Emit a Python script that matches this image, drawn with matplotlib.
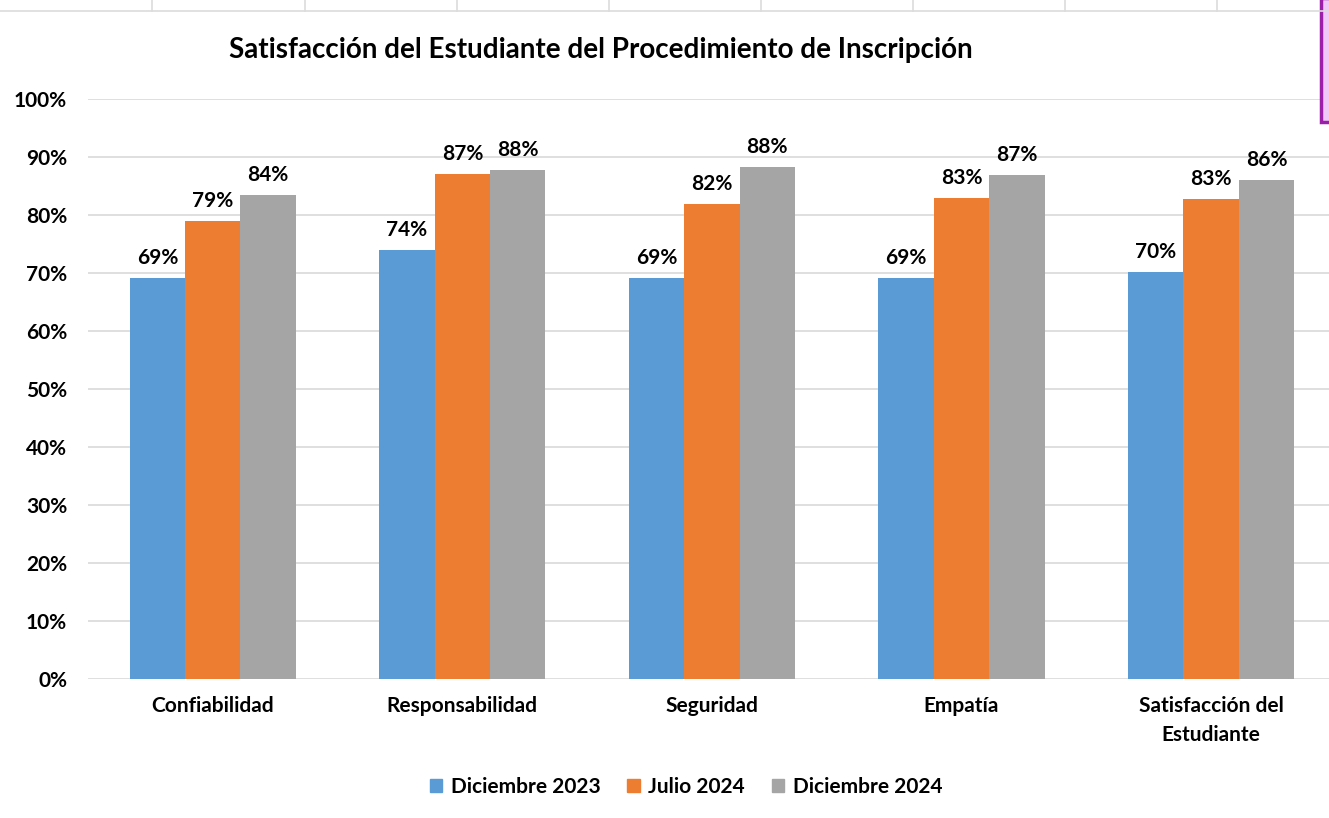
import matplotlib.pyplot as plt
import numpy as np
from matplotlib.patches import Rectangle
from matplotlib.lines import Line2D

categories = ["Confiabilidad", "Responsabilidad", "Seguridad", "Empatía",
              "Satisfacción del\nEstudiante"]
series_names = ["Diciembre 2023", "Julio 2024", "Diciembre 2024"]
dic_2023 = [0.691, 0.740, 0.691, 0.691, 0.702]
jul_2024 = [0.790, 0.871, 0.819, 0.829, 0.828]
dic_2024 = [0.835, 0.878, 0.883, 0.869, 0.860]
labels_2023 = ["69%", "74%", "69%", "69%", "70%"]
labels_jul = ["79%", "87%", "82%", "83%", "83%"]
labels_2024 = ["84%", "88%", "88%", "87%", "86%"]
yticks = [0, 0.1, 0.2, 0.3, 0.4, 0.5, 0.6, 0.7, 0.8, 0.9, 1.0]

colors = ["#5B9BD5", "#ED7D31", "#A5A5A5"]

plt.rcParams['font.family'] = ['Lato', 'DejaVu Sans']
plt.rcParams['font.weight'] = 'bold'

W, H = 1329, 818
fig = plt.figure(figsize=(W / 100, H / 100), dpi=100)
ax = fig.add_axes([88 / W, 1 - 679 / H, (W - 88) / W, (679 - 99) / H])

ind = np.arange(len(categories))
width = 0.222
all_vals = [dic_2023, jul_2024, dic_2024]
all_labels = [labels_2023, labels_jul, labels_2024]
for k in range(3):
    xs = ind + (k - 1) * width
    ax.bar(xs, all_vals[k], width, color=colors[k], label=series_names[k], zorder=2)
    for x, v, lab in zip(xs, all_vals[k], all_labels[k]):
        ax.annotate(lab, (x, v), xytext=(0, 7), textcoords='offset points',
                    ha='center', va='bottom', fontsize=15, fontweight='bold')

ax.set_xlim(-0.5, (W - 213) / 249.5)
ax.set_ylim(0, 1)
ax.set_yticks(yticks)
ax.set_yticklabels(["%d%%" % round(t * 100) for t in yticks], fontsize=15, fontweight='bold')
ax.set_xticks(ind)
ax.set_xticklabels(categories, fontsize=15, fontweight='bold', linespacing=1.6)
ax.tick_params(axis='both', length=0)
ax.tick_params(axis='y', pad=15)
ax.tick_params(axis='x', pad=12)
ax.grid(axis='y', color='#d9d9d9', linewidth=1.2, zorder=0)
for s in ax.spines.values():
    s.set_visible(False)
ax.set_facecolor('none')

fig.text(601 / W, 1 - 50 / H, "Satisfacción del Estudiante del Procedimiento de Inscripción",
         ha='center', va='center', fontsize=20, fontweight='bold')

handles = [Rectangle((0, 0), 1, 1, color=c) for c in colors]
fig.legend(handles, series_names, loc='center', bbox_to_anchor=(686 / W, 1 - 787 / H),
           ncol=3, frameon=False, handlelength=0.6, handleheight=0.6,
           handletextpad=0.4, columnspacing=1.3, prop={'weight': 'bold', 'size': 15})

# spreadsheet cell lines above the chart
fig.add_artist(Line2D([0, 1], [1 - 11 / H, 1 - 11 / H], color='#dcdcdc', linewidth=1.2))
for x in [152, 305, 457, 609, 761, 913, 1065, 1217]:
    fig.add_artist(Line2D([x / W, x / W], [1 - 11 / H, 1], color='#dcdcdc', linewidth=1.2))
fig.add_artist(Rectangle((1321 / W, 1 - 122 / H), 12 / W, 124 / H, facecolor='#f0c8f8',
                         edgecolor='#9b1fa8', linewidth=2.5, transform=fig.transFigure))

fig.savefig("out.png", dpi=100)
